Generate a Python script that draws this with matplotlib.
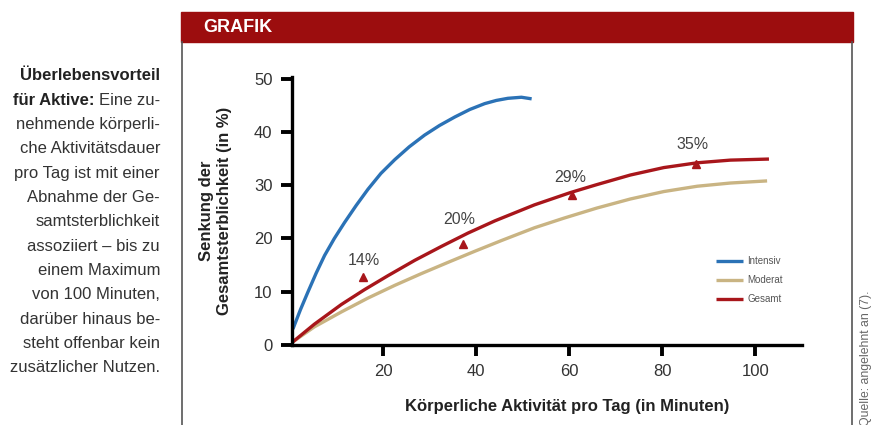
import matplotlib
matplotlib.use("Agg")
import matplotlib.pyplot as plt
from matplotlib import font_manager

# --- data ---
x_intensiv = [0.6, 2.2, 3.8, 5.6, 7.4, 9.5, 11.7, 14.2, 16.7, 19.5, 22.5, 25.6, 28.9, 32.1,
              35.4, 38.6, 41.8, 44.3, 46.8, 49.7, 51.9]
y_intensiv = [3.0, 6.6, 9.9, 13.5, 16.8, 20.0, 23.0, 26.2, 29.2, 32.2, 34.8, 37.2, 39.4, 41.2,
              42.8, 44.2, 45.3, 45.9, 46.3, 46.5, 46.2]

x_gesamt = [0.6, 5.2, 11.0, 16.0, 21.0, 26.8, 32.5, 38.2, 44.0, 52.5, 60.2, 65.9, 73.1,
            80.3, 87.5, 94.6, 102.9]
y_gesamt = [0.6, 3.9, 7.6, 10.4, 13.0, 15.9, 18.5, 21.0, 23.3, 26.3, 28.6, 30.1, 31.9,
            33.3, 34.2, 34.7, 34.9]

x_moderat = [0.6, 5.2, 11.0, 16.7, 22.5, 28.2, 33.9, 39.7, 45.4, 52.5, 58.8, 65.9, 73.1,
             80.3, 87.5, 94.6, 102.5]
y_moderat = [0.6, 3.4, 6.2, 8.8, 11.2, 13.4, 15.5, 17.6, 19.6, 22.0, 23.8, 25.7, 27.4,
             28.8, 29.8, 30.4, 30.8]

marker_x = [15.6, 37.2, 60.6, 87.3]
marker_y = [12.7, 18.9, 28.1, 34.0]
marker_labels = ["14%", "20%", "29%", "35%"]
label_x = [15.8, 36.4, 60.2, 86.4]
label_y = [15.8, 23.6, 31.5, 37.6]

x_ticks = [20, 40, 60, 80, 100]
y_ticks = [0, 10, 20, 30, 40, 50]

side_lines = ["Überlebensvorteil", None, "nehmende körperli-", "che Aktivitätsdauer",
              "pro Tag ist mit einer", "Abnahme der Ge-", "samtsterblichkeit",
              "assoziiert – bis zu", "einem Maximum", "von 100 Minuten,",
              "darüber hinaus be-", "steht offenbar kein", "zusätzlicher Nutzen."]

BLUE = "#2b72b6"
TAN = "#c9b483"
RED = "#a8161b"
BAR = "#9c0d0e"

installed = {f.name for f in font_manager.fontManager.ttflist}
NARROW = "Liberation Sans Narrow" if "Liberation Sans Narrow" in installed else "Liberation Sans"
plt.rcParams["font.family"] = [NARROW, "DejaVu Sans"]

W, H = 878, 425
fig = plt.figure(figsize=(W / 100, H / 100), dpi=100)
fig.patch.set_facecolor("white")


def fx(px):
    return px / W


def fy(py):
    return 1 - py / H


# header bar and frame
fig.patches.append(plt.Rectangle((fx(181), fy(42)), fx(853) - fx(181), fy(12) - fy(42),
                                 transform=fig.transFigure, color=BAR, zorder=0))
fig.text(fx(203), fy(27), "GRAFIK", color="white", fontsize=13, fontweight="bold",
         ha="left", va="center")
for px in (182, 852):
    fig.add_artist(plt.Line2D([fx(px), fx(px)], [fy(42), 0], transform=fig.transFigure,
                              color="#555555", lw=1.2))

# side text
renderer = fig.canvas.get_renderer()
for i, line in enumerate(side_lines):
    y = fy(76 + i * 24.3)
    if i == 0:
        fig.text(fx(160), y, line, ha="right", va="center", fontsize=12,
                 fontweight="bold", color="#222222")
    elif line is None:
        t = fig.text(fx(160), y, "Eine zu-", ha="right", va="center", fontsize=12,
                     color="#333333")
        bb = t.get_window_extent(renderer)
        fig.text((bb.x0 - 4) / W, y, "für Aktive:", ha="right", va="center", fontsize=12,
                 fontweight="bold", color="#222222")
    else:
        fig.text(fx(160), y, line, ha="right", va="center", fontsize=12, color="#333333")

fig.text(fx(866), fy(290), "Quelle: angelehnt an (7).", rotation=90, ha="center", va="top",
         fontsize=8.8, color="#666666")

# chart
ax = fig.add_axes([fx(292), fy(345), fx(802) - fx(292), fy(77) - fy(345)])
style = dict(lw=2.4, solid_capstyle="butt", solid_joinstyle="round")
ax.plot(x_intensiv, y_intensiv, color=BLUE, label="Intensiv", **style)
ax.plot(x_moderat, y_moderat, color=TAN, label="Moderat", **style)
ax.plot(x_gesamt, y_gesamt, color=RED, label="Gesamt", **style)
ax.plot(marker_x, marker_y, ls="none", marker="^", ms=6, color=RED)
for lx, ly, s in zip(label_x, label_y, marker_labels):
    ax.text(lx, ly, s, ha="center", va="center", fontsize=11.5, color="#444444")

ax.set_xlim(0.4, 110)
ax.set_ylim(0, 50.3)
ax.set_xticks(x_ticks)
ax.set_yticks(y_ticks)
for side in ("top", "right"):
    ax.spines[side].set_visible(False)
for side in ("left", "bottom"):
    ax.spines[side].set_linewidth(2.4)
ax.tick_params(axis="both", direction="out", length=8, width=2.8, labelsize=12,
               labelcolor="#333333")
ax.tick_params(axis="x", pad=5.5)
ax.tick_params(axis="y", pad=6)
ax.patch.set_alpha(0)

fig.text(fx(207), fy(211), "Senkung der", rotation=90, ha="center", va="center",
         fontsize=12, fontweight="bold", color="#222222")
fig.text(fx(224), fy(211), "Gesamtsterblichkeit (in %)", rotation=90, ha="center",
         va="center", fontsize=12, fontweight="bold", color="#222222")
fig.text(fx(567), fy(407), "Körperliche Aktivität pro Tag (in Minuten)", ha="center",
         va="center", fontsize=12, fontweight="bold", color="#222222")

ax.legend(loc="upper left", bbox_to_anchor=(fx(716), fy(256)), bbox_transform=fig.transFigure,
          frameon=False, fontsize=7, handlelength=2.8, handletextpad=0.4, labelspacing=0.95,
          labelcolor="#555555", borderaxespad=0, borderpad=0)

fig.savefig("out.png", dpi=100)
